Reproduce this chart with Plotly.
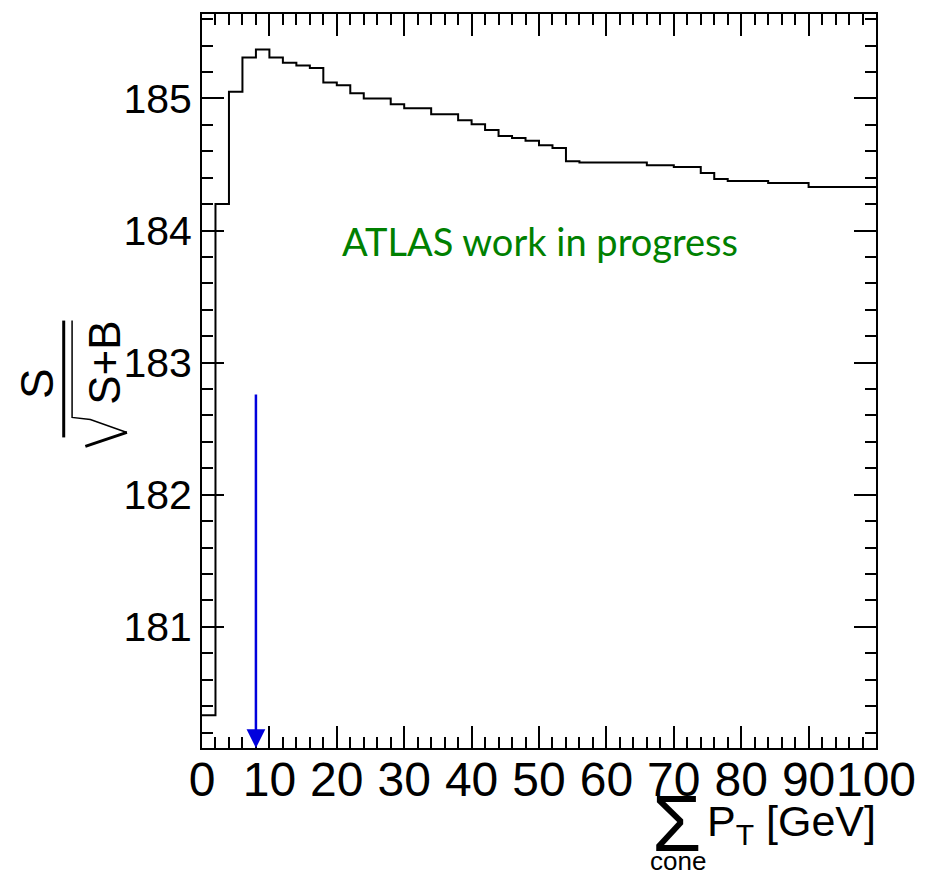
import plotly.graph_objects as go

# Significance S/sqrt(S+B) versus the cone isolation cut (2 GeV bins, 0-100 GeV)
bin_edges = list(range(0, 102, 2))
significance = [
    180.33, 184.20, 185.05, 185.31, 185.37, 185.31, 185.27, 185.25, 185.23, 185.12,
    185.10, 185.04, 185.00, 185.00, 184.955, 184.925, 184.925, 184.88, 184.88, 184.835,
    184.805, 184.76, 184.715, 184.70, 184.68, 184.645, 184.625, 184.525, 184.515, 184.515,
    184.515, 184.515, 184.515, 184.495, 184.495, 184.48, 184.48, 184.435, 184.39, 184.375,
    184.375, 184.375, 184.36, 184.36, 184.36, 184.33, 184.33, 184.33, 184.33, 184.33,
]
x_tick_values = list(range(0, 101, 10))
y_tick_values = [181, 182, 183, 184, 185]

# chosen cut marked with an arrow
cut_value = 8
arrow_top = 182.77

x_range = [0, 100]
y_range = [180.083, 185.639]

# plot-area geometry (pixels) for placing the hand-built axis titles
W, H = 928, 875
L, R, T, B = 202, 50, 13, 127
PW, PH = W - L - R, H - T - B


def px(x):
    return (x - L) / PW


def py(y):
    return (H - B - y) / PH


fig = go.Figure()
fig.add_trace(go.Scatter(
    x=bin_edges,
    y=significance + [significance[-1]],
    mode="lines",
    line=dict(shape="hv", color="black", width=2),
    hoverinfo="skip",
    showlegend=False,
))

tick_font = "Liberation Sans, Arial, sans-serif"
common_axis = dict(
    showline=True, linecolor="black", linewidth=2, mirror="ticks",
    ticks="inside", tickcolor="black", tickwidth=2,
    showgrid=False, zeroline=False,
)

fig.update_xaxes(
    range=x_range, tickmode="array", tickvals=x_tick_values,
    ticktext=[str(v) for v in x_tick_values], ticklen=22, tickangle=0,
    ticklabelstandoff=-12,
    tickfont=dict(family=tick_font, size=48, color="black"),
    minor=dict(dtick=2, tick0=0, ticks="inside", ticklen=11, tickcolor="black", tickwidth=2),
    **common_axis,
)
fig.update_yaxes(
    range=y_range, tickmode="array", tickvals=y_tick_values,
    ticktext=[str(v) for v in y_tick_values], ticklen=22,
    tickfont=dict(family=tick_font, size=41, color="black"),
    minor=dict(dtick=0.2, tick0=0, ticks="inside", ticklen=11, tickcolor="black", tickwidth=2),
    **common_axis,
)

annotations = [
    # cut arrow
    dict(x=cut_value, y=y_range[0], ax=cut_value, ay=arrow_top,
         xref="x", yref="y", axref="x", ayref="y", text="",
         showarrow=True, arrowhead=2, arrowsize=1.5, arrowwidth=2.5,
         arrowcolor="#0000dd", standoff=0),
    # label
    dict(x=px(541), y=py(240), xref="paper", yref="paper", text="ATLAS work in progress",
         showarrow=False, xanchor="center", yanchor="middle",
         font=dict(family="Lato, sans-serif", size=38, color="#008000")),
    # x-axis title pieces
    dict(x=px(678), y=py(824), xref="paper", yref="paper", text="Σ",
         showarrow=False, xanchor="center", yanchor="middle",
         font=dict(family=tick_font, size=80, color="black")),
    dict(x=px(679), y=py(861), xref="paper", yref="paper", text="cone",
         showarrow=False, xanchor="center", yanchor="middle",
         font=dict(family=tick_font, size=26, color="black")),
    dict(x=px(880), y=py(824), xref="paper", yref="paper", text="P<sub>T</sub> [GeV]",
         showarrow=False, xanchor="right", yanchor="middle",
         font=dict(family=tick_font, size=43, color="black")),
    # y-axis title pieces: S over sqrt(S+B), rotated
    dict(x=px(37), y=py(383), xref="paper", yref="paper", text="S", textangle=-90,
         showarrow=False, xanchor="center", yanchor="middle",
         font=dict(family=tick_font, size=46, color="black")),
    dict(x=px(104), y=py(362), xref="paper", yref="paper", text="S+B", textangle=-90,
         showarrow=False, xanchor="center", yanchor="middle",
         font=dict(family=tick_font, size=44, color="black")),
]

shapes = [
    # fraction bar
    dict(type="line", xref="paper", yref="paper",
         x0=px(63.3), x1=px(63.3), y0=py(320), y1=py(437),
         line=dict(color="black", width=3)),
    # radical sign
    dict(type="path", xref="paper", yref="paper",
         path=f"M {px(71.7)},{py(320)} L {px(71.7)},{py(417)} L {px(90)},{py(419)} L {px(126.7)},{py(432)}",
         line=dict(color="black", width=1.5)),
    dict(type="line", xref="paper", yref="paper",
         x0=px(126.7), x1=px(85), y0=py(432), y1=py(446),
         line=dict(color="black", width=3)),
]

fig.update_layout(
    width=W, height=H,
    margin=dict(l=L, r=R, t=T, b=B),
    paper_bgcolor="white", plot_bgcolor="white",
    annotations=annotations, shapes=shapes,
    showlegend=False,
)

fig.write_html("out.html")
